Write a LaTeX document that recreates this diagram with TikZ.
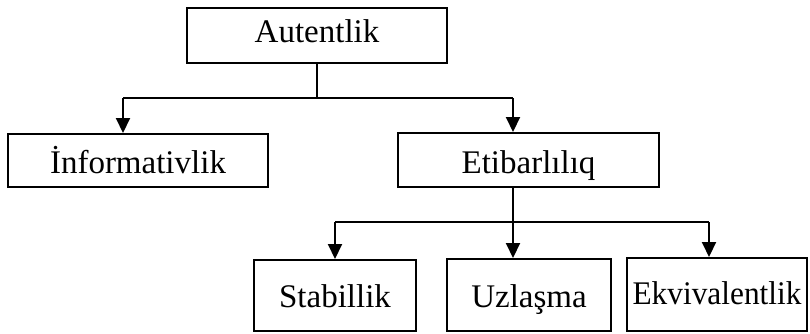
\documentclass[tikz,border=0pt]{standalone}
\usepackage{fontspec}
\setmainfont{Liberation Serif}
\usetikzlibrary{arrows.meta}
\begin{document}
\begin{tikzpicture}[x=1pt,y=-1pt,
  box/.style={draw, line width=2pt, inner sep=0pt, text depth=0pt,
    font=\fontsize{33}{40}\selectfont},
  conn/.style={line width=2pt},
  arr/.style={conn, -{Triangle[length=15pt,width=14pt]}}]
\useasboundingbox (0,0) rectangle (810,333);
\node[box, minimum width=260pt, minimum height=55pt, text height=13pt] (aut) at (317,35.5) {Autentlik};
\node[box, minimum width=260pt, minimum height=53pt, text height=25pt] (inf) at (138,160.5) {İnformativlik};
\node[box, minimum width=261pt, minimum height=54pt, text height=26pt] (eti) at (528.5,160) {Etibarlılıq};
\node[box, minimum width=162pt, minimum height=71pt, text height=24pt] (sta) at (335,295.5) {Stabillik};
\node[box, minimum width=164pt, minimum height=72pt, text height=24pt] (uzl) at (529,295) {Uzlaşma};
\node[box, minimum width=180pt, minimum height=73pt, text height=20pt] (ekv) at (717,294.5) {\scalebox{0.95}[1]{Ekvivalentlik}};
% first level
\coordinate (j1) at (317,98);
\coordinate (j1l) at (123,98);
\coordinate (j1r) at (513,98);
\draw[conn] (aut.south) -- (j1);
\draw[conn] (j1l) -- (j1r);
\draw[arr] (j1l) -- (j1l |- inf.north);
\draw[arr] (j1r) -- (j1r |- eti.north);
% second level
\coordinate (j2l) at (335,222);
\coordinate (j2r) at (709,222);
\coordinate (etb) at (513,187);
\draw[arr] (etb) -- (etb |- uzl.north);
\draw[conn] (j2l) -- (j2r);
\draw[arr] (j2l) -- (sta.north);
\draw[arr] (j2r) -- (j2r |- ekv.north);
\end{tikzpicture}
\end{document}
